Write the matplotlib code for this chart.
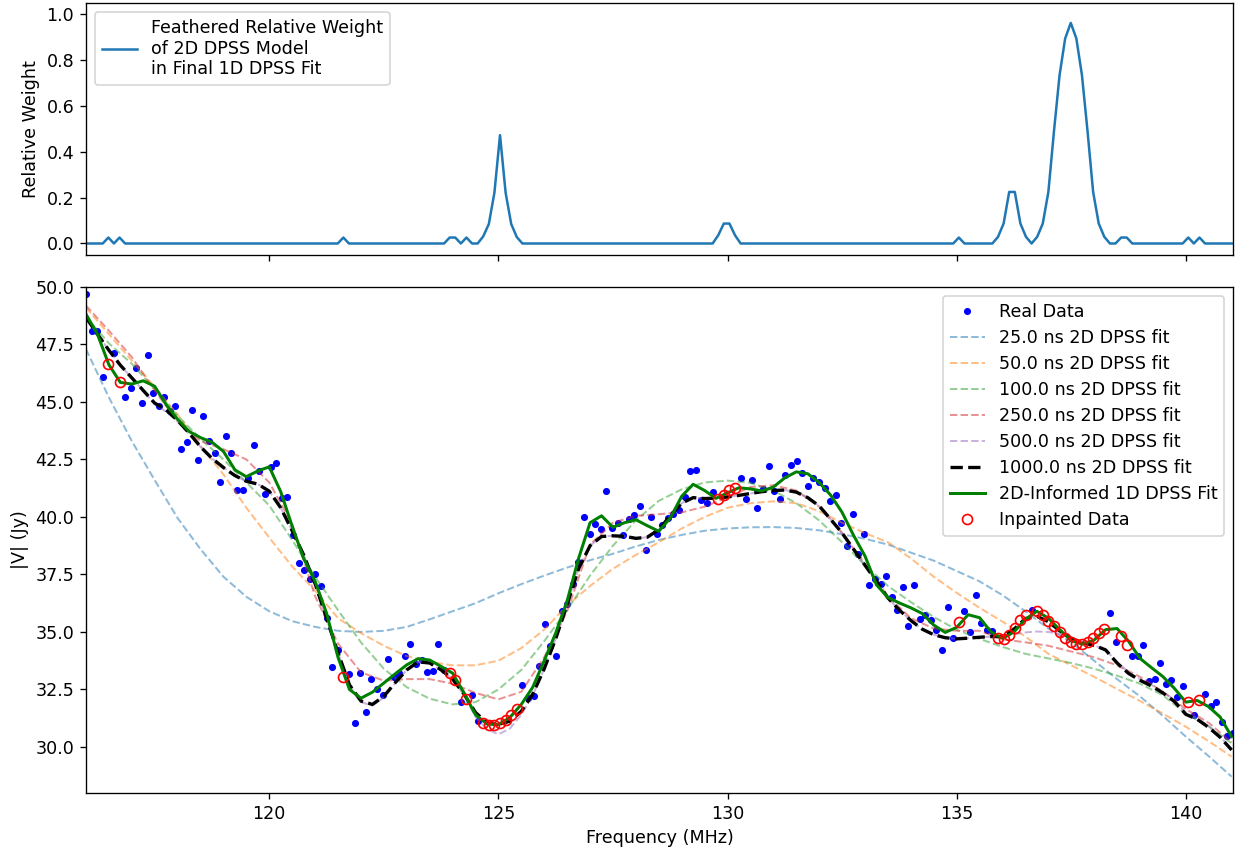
import numpy as np
import matplotlib
matplotlib.use("Agg")
import matplotlib.pyplot as plt

plt.rcParams["font.size"] = 10.5

# channel grid (MHz)
df = 0.1221
freqs = 116.0 + df * np.arange(206)

# measured |V| per channel (flagged channels hold the inpainted value)
vis = [49.70, 48.10, 48.10, 46.09, 46.64, 47.11, 45.85, 45.22, 45.59, 46.47,
       44.96, 47.04, 45.37, 44.81, 45.22, 44.61, 44.81, 42.97, 43.26, 44.64,
       42.49, 44.41, 43.30, 42.77, 41.52, 43.51, 42.77, 41.17, 41.17, 41.71,
       43.15, 42.01, 40.98, 42.19, 42.33, 40.81, 40.88, 39.21, 37.99, 37.71,
       37.31, 37.54, 37.00, 35.59, 33.47, 34.23, 33.04, 33.17, 31.03, 33.21,
       31.51, 32.95, 32.53, 32.27, 33.82, 33.04, 33.21, 33.94, 34.49, 33.60,
       33.76, 33.24, 33.31, 34.49, 33.33, 33.21, 32.89, 31.95, 32.09, 32.27,
       31.15, 31.06, 30.96, 30.96, 31.03, 31.18, 31.39, 31.64, 32.70, 32.12,
       32.22, 33.54, 35.35, 34.37, 33.96, 35.93, 36.22, 37.10, 38.05, 40.01,
       39.27, 39.70, 39.47, 41.14, 39.54, 39.73, 39.21, 39.92, 40.10, 40.47,
       38.58, 40.01, 39.24, 39.63, 39.97, 40.15, 40.30, 40.88, 42.00, 42.04,
       40.73, 40.59, 41.10, 40.79, 40.94, 41.17, 41.27, 41.71, 40.76, 41.61,
       40.40, 41.20, 42.21, 41.15, 40.76, 41.82, 42.27, 42.43, 41.90, 41.34,
       41.71, 41.53, 41.27, 40.69, 40.94, 39.72, 38.73, 40.11, 38.41, 39.28,
       37.06, 37.32, 37.10, 37.42, 36.52, 35.97, 36.94, 35.24, 37.06, 35.58,
       35.75, 35.50, 35.07, 34.23, 36.09, 34.74, 35.42, 35.90, 35.02, 36.62,
       35.39, 35.10, 35.05, 34.74, 34.71, 34.85, 35.17, 35.50, 35.72, 35.94,
       35.90, 35.75, 35.49, 35.24, 34.98, 34.74, 34.55, 34.47, 34.47, 34.56,
       34.74, 34.95, 35.14, 35.82, 34.56, 34.84, 34.44, 33.94, 33.94, 34.44,
       32.88, 32.95, 33.67, 32.75, 32.92, 32.19, 32.63, 31.97, 31.39, 32.05,
       32.30, 31.76, 31.97, 31.10, 30.48, 30.62]

flagged = [4, 6, 46, 65, 66, 68, 71, 72, 73, 74, 75, 76, 77,
           113, 114, 115, 116, 156, 163, 164, 165, 166, 167, 168,
           170, 171, 172, 173, 174, 175, 176, 177, 178, 179, 180, 181, 182,
           185, 186, 197, 199]

# feathered weight, nonzero channels only
weight_chan = [4, 6, 46, 65, 66, 68, 71, 72, 73, 74, 75, 76, 77,
               113, 114, 115, 116, 156, 163, 164, 165, 166, 167, 168,
               170, 171, 172, 173, 174, 175, 176, 177, 178, 179, 180, 181, 182,
               185, 186, 197, 199]
weight_val = [0.026, 0.026, 0.026, 0.026, 0.026, 0.026, 0.031, 0.085, 0.222, 0.473, 0.222, 0.085, 0.028,
              0.036, 0.087, 0.087, 0.036, 0.026, 0.029, 0.087, 0.225, 0.225, 0.087, 0.029,
              0.029, 0.087, 0.225, 0.49, 0.735, 0.895, 0.963, 0.895, 0.735, 0.49, 0.225, 0.087, 0.029,
              0.026, 0.026, 0.026, 0.026]

# fitted models
f_fine = np.arange(116.0, 141.001, 0.25)
f_coarse = np.arange(116.0, 141.001, 0.5)

fit_1d = [48.82, 47.95, 46.62, 45.85, 45.78, 45.92, 45.68, 44.88, 44.25, 43.72,
          43.45, 43.25, 42.85, 42.05, 41.75, 42.00, 42.18, 41.10, 39.60, 38.20,
          37.20, 35.82, 33.90, 32.50, 32.12, 32.38, 32.78, 33.18, 33.57, 33.84,
          33.78, 33.50, 33.21, 32.35, 31.40, 31.00, 30.97, 31.28, 31.85, 32.60,
          33.75, 34.95, 36.35, 38.20, 39.75, 40.05, 39.55, 39.75, 39.88, 39.62,
          39.38, 39.95, 40.90, 41.42, 41.15, 40.81, 41.05, 41.27, 41.22, 41.13,
          41.30, 41.70, 41.96, 41.88, 41.50, 40.95, 40.20, 39.20, 38.30, 37.05,
          36.50, 36.26, 36.05, 35.80, 35.30, 34.98, 35.20, 35.75, 35.62, 35.00,
          34.72, 35.00, 35.55, 35.90, 35.60, 35.10, 34.62, 34.47, 34.65, 35.10,
          35.15, 34.60, 33.85, 33.45, 33.06, 32.55, 31.95, 32.02, 31.75, 31.30,
          30.45]

fit_1000 = [48.68, 47.95, 47.25, 46.60, 46.05, 45.50, 44.95, 44.65, 44.20, 43.65,
            43.05, 42.55, 42.15, 41.80, 41.55, 41.43, 41.12, 40.40, 39.40, 38.35,
            37.10, 35.60, 34.10, 32.70, 32.00, 31.85, 32.20, 32.80, 33.35, 33.70,
            33.65, 33.35, 32.95, 32.30, 31.50, 31.05, 30.98, 31.12, 31.55, 32.30,
            33.40, 34.70, 36.20, 37.75, 38.75, 39.15, 39.18, 39.16, 39.07, 39.12,
            39.45, 40.05, 40.60, 40.84, 40.80, 40.82, 40.87, 40.94, 41.02, 41.10,
            41.15, 41.17, 41.08, 40.84, 40.48, 39.90, 39.30, 38.60, 37.90, 37.20,
            36.48, 35.95, 35.50, 35.12, 34.88, 34.75, 34.70, 34.73, 34.77, 34.80,
            34.80, 35.12, 35.58, 35.68, 35.45, 35.05, 34.72, 34.52, 34.42, 34.22,
            33.65, 33.20, 32.90, 32.65, 32.35, 31.98, 31.42, 31.20, 30.85, 30.42,
            29.87]

fit_500 = [48.68, 47.95, 47.25, 46.60, 46.05, 45.50, 44.90, 44.58, 44.15, 43.62,
           43.05, 42.55, 42.15, 41.80, 41.55, 41.43, 41.12, 40.40, 39.40, 38.35,
           37.10, 35.60, 34.10, 32.70, 31.95, 31.80, 32.15, 32.78, 33.35, 33.70,
           33.65, 33.35, 32.95, 32.25, 31.30, 30.78, 30.55, 30.80, 31.40, 32.25,
           33.40, 34.70, 36.20, 37.75, 38.75, 39.15, 39.18, 39.16, 39.07, 39.12,
           39.45, 40.05, 40.60, 40.84, 40.80, 40.82, 40.87, 40.94, 41.02, 41.10,
           41.15, 41.17, 41.08, 40.84, 40.48, 39.90, 39.30, 38.60, 37.90, 37.20,
           36.48, 35.95, 35.50, 35.12, 34.88, 34.75, 34.70, 34.73, 34.77, 34.80,
           34.80, 34.90, 34.98, 35.02, 35.00, 34.92, 34.75, 34.55, 34.42, 34.22,
           33.70, 33.25, 32.95, 32.70, 32.40, 32.05, 31.50, 31.25, 30.90, 30.45,
           29.90]

fit_250 = [49.19, 48.10, 46.95, 45.50, 44.15, 43.30, 42.95, 42.50, 41.50, 39.70,
           36.55, 34.50, 33.25, 32.88, 32.95, 32.95, 32.75, 32.35, 32.07, 32.40,
           33.90, 35.90, 38.80, 39.75, 40.05, 40.12, 40.20, 40.45, 40.85, 41.30,
           41.38, 41.15, 40.45, 39.30, 37.95, 36.55, 35.60, 35.15, 35.05, 35.05,
           34.68, 34.55, 34.40, 34.15, 33.90, 33.55, 33.05, 32.40, 31.65, 31.05,
           30.20]

fit_100 = [48.70, 47.55, 46.66, 45.55, 44.40, 43.40, 42.50, 41.50, 40.50, 39.00,
           37.40, 35.95, 34.55, 33.40, 32.60, 32.10, 31.85, 31.95, 32.50, 33.35,
           34.60, 35.95, 37.45, 38.75, 39.85, 40.70, 41.20, 41.50, 41.58, 41.48,
           41.15, 40.60, 39.85, 38.90, 37.90, 37.00, 36.30, 35.65, 35.10, 34.70,
           34.35, 34.05, 33.85, 33.65, 33.40, 33.10, 32.75, 32.25, 31.45, 30.90,
           30.16]

fit_50 = [49.10, 47.95, 46.80, 45.65, 44.45, 43.10, 41.85, 40.40, 39.10, 37.85,
          36.80, 35.60, 34.95, 34.40, 33.95, 33.70, 33.55, 33.55, 33.75, 34.30,
          35.10, 36.15, 37.00, 37.75, 38.35, 38.90, 39.50, 40.00, 40.40, 40.60,
          40.68, 40.60, 40.25, 39.75, 39.30, 38.90, 38.20, 37.40, 36.70, 36.05,
          35.45, 34.80, 34.05, 33.55, 33.05, 32.52, 32.00, 31.45, 30.88, 30.25,
          29.58]

fit_25 = [47.30, 45.20, 43.30, 41.60, 39.95, 38.60, 37.40, 36.53, 35.90, 35.47,
          35.22, 35.05, 35.00, 35.05, 35.22, 35.55, 35.90, 36.25, 36.68, 37.08,
          37.45, 37.80, 38.12, 38.40, 38.72, 39.00, 39.22, 39.40, 39.50, 39.55,
          39.56, 39.52, 39.42, 39.25, 39.05, 38.80, 38.45, 38.10, 37.65, 37.20,
          36.60, 35.90, 35.15, 34.55, 33.75, 32.95, 32.20, 31.35, 30.45, 29.60,
          28.71]

vis = np.array(vis)
mask = np.zeros(len(freqs), dtype=bool)
mask[flagged] = True
weight = np.zeros(len(freqs))
weight[weight_chan] = weight_val

fig = plt.figure(figsize=(1235 / 120, 847 / 120), dpi=120)
ax1 = fig.add_axes([0.0696, 0.699, 0.9288, 0.2975])
ax2 = fig.add_axes([0.0696, 0.0638, 0.9288, 0.5974], sharex=ax1)

ax1.plot(freqs, weight, color="C0",
         label="Feathered Relative Weight\nof 2D DPSS Model\nin Final 1D DPSS Fit")
ax1.set_ylabel("Relative Weight")
ax1.set_ylim(-0.05, 1.05)
ax1.legend(loc="upper left")
ax1.tick_params(labelbottom=False)

ax2.plot(freqs[~mask], vis[~mask], ".", color="b", ms=6.5, label="Real Data")
light = [("25.0", fit_25, f_coarse, "C0"), ("50.0", fit_50, f_coarse, "C1"),
         ("100.0", fit_100, f_coarse, "C2"), ("250.0", fit_250, f_coarse, "C3"),
         ("500.0", fit_500, f_fine, "C4")]
for tau, y, fx, c in light:
    ax2.plot(fx, y, "--", color=c, alpha=0.5, lw=1.2, label=tau + " ns 2D DPSS fit")
ax2.plot(f_fine, fit_1000, "--", color="k", lw=2, label="1000.0 ns 2D DPSS fit")
ax2.plot(f_fine, fit_1d, "-", color="g", lw=1.8, label="2D-Informed 1D DPSS Fit")
ax2.plot(freqs[mask], vis[mask], "o", mfc="none", mec="r", label="Inpainted Data")

ax2.set_xlim(freqs[0], freqs[-1])
ax2.set_ylim(28.0, 50.0)
ax2.set_xlabel("Frequency (MHz)")
ax2.set_ylabel("|V| (Jy)")
ax2.legend(loc="upper right", labelspacing=0.46)

fig.savefig("out.png", dpi=120)
